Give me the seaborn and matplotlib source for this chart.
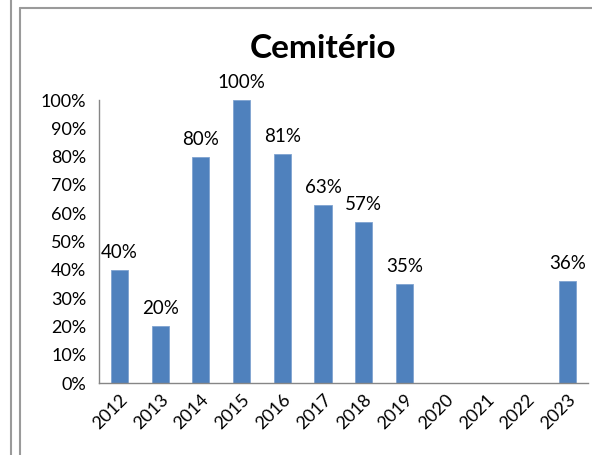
import numpy as np
import pandas as pd
import seaborn as sns
import matplotlib.pyplot as plt
from matplotlib.lines import Line2D
from matplotlib.ticker import FixedLocator, PercentFormatter

years = ["2012", "2013", "2014", "2015", "2016", "2017",
         "2018", "2019", "2020", "2021", "2022", "2023"]
values = [0.40, 0.20, 0.80, 1.00, 0.81, 0.63,
          0.57, 0.35, np.nan, np.nan, np.nan, 0.36]
title = "Cemitério"

sns.set_style("white")
plt.rcParams["font.family"] = ["Lato", "DejaVu Sans"]

df = pd.DataFrame({"ano": years, "valor": values})

fig = plt.figure(figsize=(5.92, 4.55), dpi=100)
ax = fig.add_axes([0.1672, 0.1582, 0.8258, 0.6218])

sns.barplot(data=df, x="ano", y="valor", color="#4F81BD", width=0.42,
            saturation=1, edgecolor="#7FA3D0", linewidth=0.6, ax=ax)

# data labels
for i, v in enumerate(values):
    if np.isnan(v):
        continue
    ax.annotate(f"{v:.0%}", (i, v), xytext=(0, 6.5), textcoords="offset points",
                ha="center", va="bottom", fontsize=13.5, color="black")

ax.set_xlim(-0.5, len(years) - 0.5)
ax.set_ylim(0, 1.0)
ax.set_yticks(np.arange(0, 1.01, 0.1))
ax.yaxis.set_major_formatter(PercentFormatter(1.0, decimals=0))
ax.set_xlabel("")
ax.set_ylabel("")

# excel style: ticks between categories
ax.xaxis.set_minor_locator(FixedLocator(np.arange(-0.5, len(years), 1)))
ax.tick_params(axis="x", which="major", length=0, pad=6)
ax.tick_params(axis="x", which="minor", length=5, color="#868686", width=1, direction="out")
ax.tick_params(axis="y", length=5, color="#868686", width=1, direction="out", pad=4)
ax.tick_params(labelsize=13, labelcolor="black")
plt.setp(ax.get_xticklabels(), rotation=45, ha="right", rotation_mode="anchor")

for s in ["top", "right"]:
    ax.spines[s].set_visible(False)
for s in ["left", "bottom"]:
    ax.spines[s].set_color("#868686")
    ax.spines[s].set_linewidth(1)

fig.text(0.545, 0.893, title, ha="center", va="center",
         fontsize=24, fontweight="bold", color="black")

# frame lines of the surrounding sheet
W, H = 592, 455
fig.add_artist(Line2D([11 / W, 11 / W], [0, 1], color="#9a9a9a", lw=1.5))
fig.add_artist(Line2D([20 / W, 20 / W], [0, 1 - 8 / H], color="#9a9a9a", lw=1.5))
fig.add_artist(Line2D([20 / W, 1], [1 - 8 / H, 1 - 8 / H], color="#9a9a9a", lw=1.5))

fig.savefig("out.png", dpi=100)
